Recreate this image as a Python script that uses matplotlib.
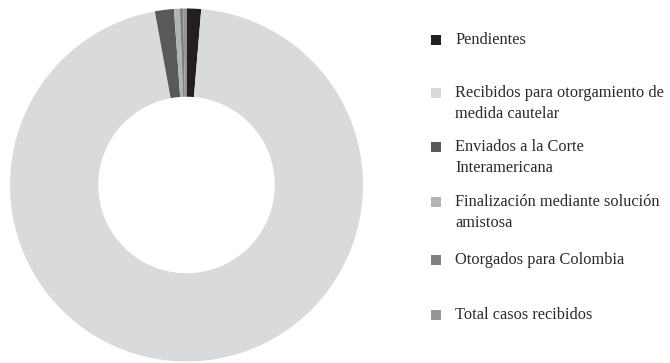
import matplotlib
matplotlib.use('Agg')
import matplotlib.pyplot as plt
from matplotlib.patches import Rectangle

labels = ['Pendientes',
          'Recibidos para otorgamiento de\nmedida cautelar',
          'Enviados a la Corte\nInteramericana',
          'Finalización mediante solución\namistosa',
          'Otorgados para Colombia',
          'Total casos recibidos']
values = [40, 2870, 52, 16, 9, 9]
colors = ['#231f20', '#d9dadb', '#58595b', '#b3b4b6', '#7f8083', '#959699']

plt.rcParams['font.family'] = ['Liberation Serif', 'DejaVu Serif']

fig = plt.figure(figsize=(6.7, 3.63), dpi=100)
W, H = 670.0, 363.0

# donut
cx, cy, r = 186.5, 185.0, 176.5
ax = fig.add_axes([(cx - r) / W, (H - cy - r) / H, 2 * r / W, 2 * r / H])
ax.pie(values, colors=colors, startangle=90, counterclock=False,
       wedgeprops=dict(width=0.5, linewidth=0))
ax.set_xlim(-1, 1)
ax.set_ylim(-1, 1)
ax.set_aspect('equal')
ax.axis('off')

# legend, one fixed slot per entry
ys = [40, 93, 147, 202, 260, 315]
for lab, col, y in zip(labels, colors, ys):
    fig.add_artist(Rectangle((431 / W, (H - y - 5) / H), 10 / W, 10 / H,
                             transform=fig.transFigure, color=col, lw=0))
    for k, ln in enumerate(lab.split('\n')):
        fig.text(455 / W, (H - y - k * 21) / H, ln, fontsize=11.8,
                 color='#2b2b2b', va='center', ha='left')

fig.savefig('out.png', dpi=100)
